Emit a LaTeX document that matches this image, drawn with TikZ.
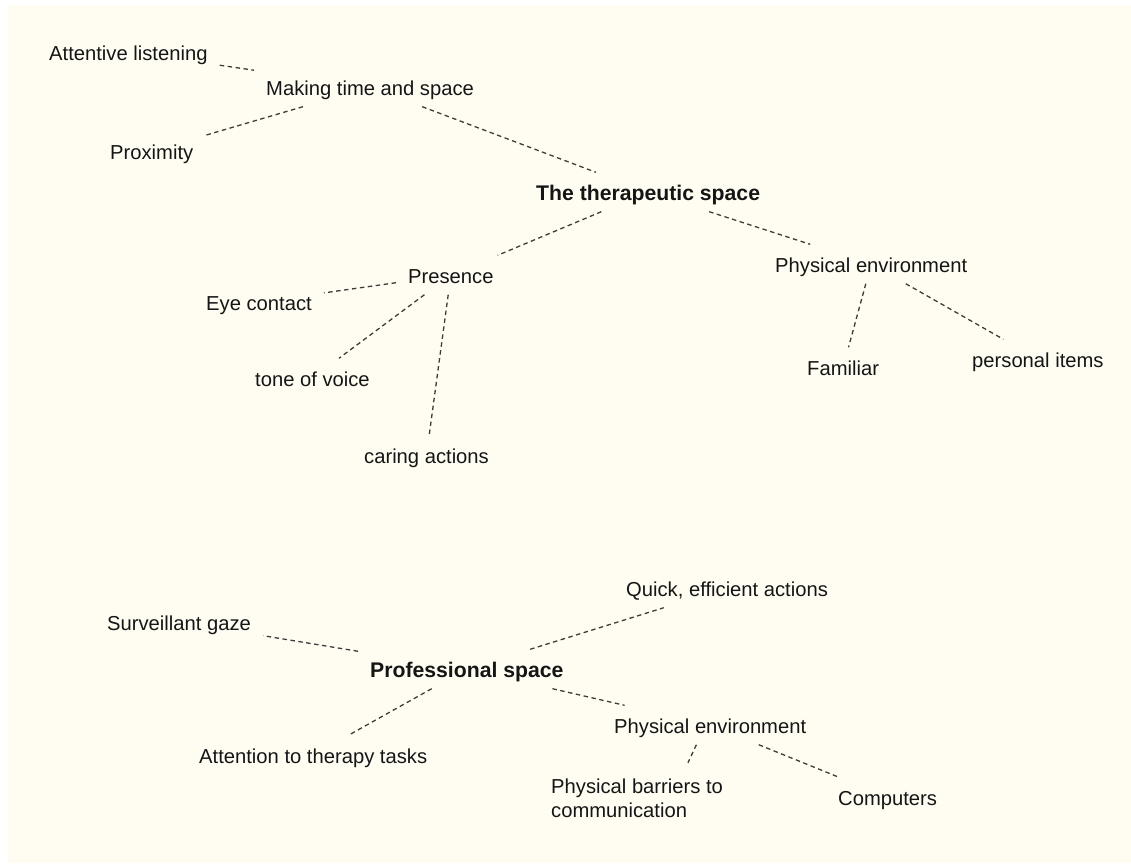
\documentclass[tikz,border=0pt]{standalone}
\usepackage{fontspec}
\setmainfont{Liberation Sans}
\definecolor{bgcream}{HTML}{FFFDF2}
\definecolor{linkgray}{HTML}{3C3C3C}
\definecolor{txt}{HTML}{151515}
\begin{document}
\begin{tikzpicture}[x=1pt,y=-1pt,
  lbl/.style={font=\fontsize{20.2pt}{24pt}\selectfont, text=txt, anchor=base west,
    inner xsep=12pt, inner ysep=10.5pt, text height=17.5pt, text depth=0.5pt},
  hub/.style={lbl, font=\fontsize{21.2pt}{24pt}\selectfont\bfseries},
  twoline/.style={font=\fontsize{20.2pt}{24pt}\selectfont, text=txt, anchor=north west,
    align=left, inner xsep=12pt, inner ysep=16pt},
  link/.style={draw=linkgray, line width=1.3pt, dash pattern=on 4.5pt off 3.5pt}]
\useasboundingbox (0,0) rectangle (1131,863);
\fill[white] (0,0) rectangle (1131,863);
\fill[bgcream] (8,5) rectangle (1131,863);

\node[lbl] (att) at (37,60.5) {Attentive listening};
\node[lbl] (mak) at (254,95.5) {Making time and space};
\node[lbl] (prox) at (98,159.5) {Proximity};
\node[hub] (ther) at (524,200.5) {The therapeutic space};
\node[lbl] (pres) at (396,283.5) {Presence};
\node[lbl] (pe1) at (763,272.5) {Physical environment};
\node[lbl] (eye) at (194,310.5) {Eye contact};
\node[lbl] (tone) at (243,386.5) {tone of voice};
\node[lbl] (care) at (352,463.5) {caring actions};
\node[lbl] (fam) at (795,375.5) {Familiar};
\node[lbl] (pers) at (960,367.5) {personal items};

\node[lbl] (quick) at (614,596.5) {Quick, efficient actions};
\node[lbl] (surv) at (95,630.5) {Surveillant gaze};
\node[hub] (prof) at (358,677.5) {Professional space};
\node[lbl] (pe2) at (602,733.5) {Physical environment};
\node[lbl] (attn) at (187,763.5) {Attention to therapy tasks};
\node[twoline] (bar) at (539,762.8) {Physical barriers to\\communication};
\node[lbl] (comp) at (826,805.5) {Computers};

\draw[link] (att) -- (mak);
\draw[link] (mak) -- (prox);
\draw[link] (mak) -- (ther);
\draw[link] (ther) -- (pres);
\draw[link] (ther) -- (pe1);
\draw[link] (pres) -- (eye);
\draw[link] (pres) -- (tone);
\draw[link] (pres) -- (care);
\draw[link] (pe1) -- (fam);
\draw[link] (pe1) -- (pers);

\draw[link] (prof) -- (surv);
\draw[link] (prof) -- (quick);
\draw[link] (prof) -- (attn);
\draw[link] (prof) -- (pe2);
\draw[link] (pe2.235) -- (bar.35);
\draw[link] (pe2) -- (comp);
\end{tikzpicture}
\end{document}
